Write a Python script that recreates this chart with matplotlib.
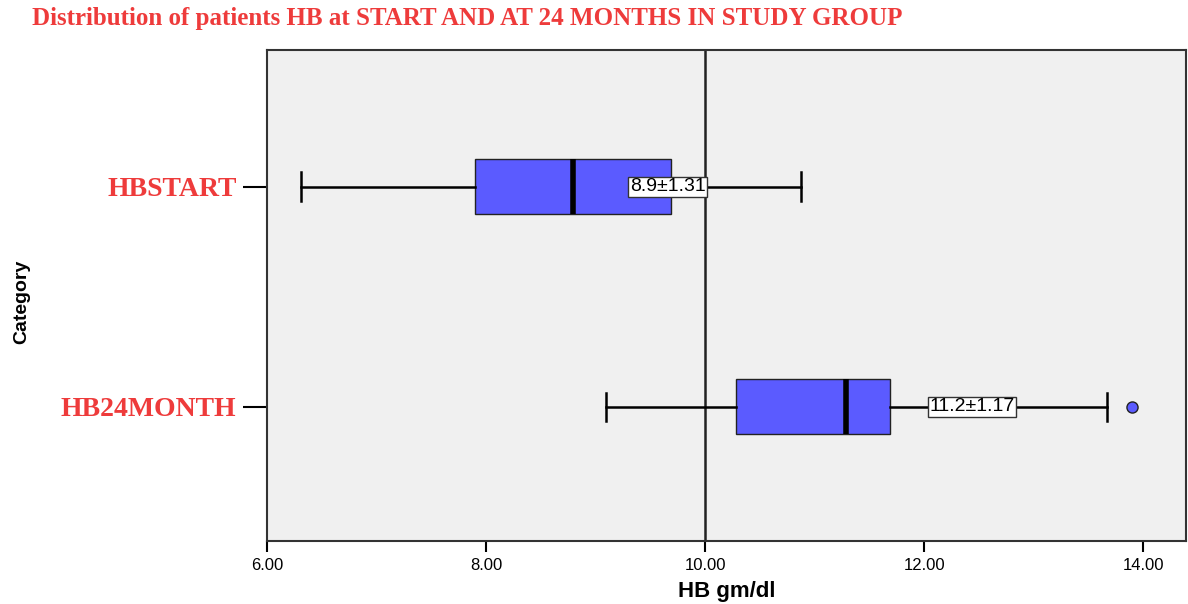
import matplotlib

matplotlib.use("Agg")

import matplotlib.pyplot as plt

CATEGORIES = ["HB24MONTH", "HBSTART"]
WHISKER_LOW = [9.10, 6.31]
Q1 = [10.28, 7.90]
MEDIAN = [11.29, 8.79]
Q3 = [11.69, 9.69]
WHISKER_HIGH = [13.67, 10.88]
OUTLIERS = [[13.90], []]
MEAN_SD_LABELS = ["11.2\u00b11.17", "8.9\u00b11.31"]
LABEL_X = [12.44, 9.66]
XTICKS = [6, 8, 10, 12, 14]
REF_LINE = 10.0

RED = "#ee3b3b"
BOX_BLUE = "#5b5bff"

fig = plt.figure(figsize=(11.88, 6.04), dpi=100)
ax = fig.add_axes([0.2247, 0.104, 0.7735, 0.813])
ax.set_facecolor("#f0f0f0")

stats = []
for i, name in enumerate(CATEGORIES):
    stats.append({
        "label": name,
        "whislo": WHISKER_LOW[i],
        "q1": Q1[i],
        "med": MEDIAN[i],
        "q3": Q3[i],
        "whishi": WHISKER_HIGH[i],
        "fliers": OUTLIERS[i],
    })

ax.axvline(REF_LINE, color="#222222", lw=1.8, zorder=1)

ax.bxp(
    stats,
    positions=[0, 1],
    widths=0.25,
    vert=False,
    patch_artist=True,
    boxprops=dict(facecolor=BOX_BLUE, edgecolor="#222222", lw=1.0),
    medianprops=dict(color="black", lw=4),
    whiskerprops=dict(color="black", lw=1.8),
    capprops=dict(color="black", lw=1.8),
    capwidths=0.13,
    flierprops=dict(marker="o", markerfacecolor=BOX_BLUE, markeredgecolor="#222222",
                    markersize=8, markeredgewidth=1.0),
    zorder=2,
)

for i, txt in enumerate(MEAN_SD_LABELS):
    ax.text(LABEL_X[i], i, txt, ha="center", va="center", fontsize=14,
            family="Liberation Sans", zorder=5,
            bbox=dict(boxstyle="square,pad=0.08", fc="white", ec="#333333", lw=1.0))

ax.set_xlim(6, 14.39)
ax.set_ylim(-0.61, 1.62)
ax.set_xticks(XTICKS)
ax.set_xticklabels(["%.2f" % v for v in XTICKS], fontsize=12, family="Liberation Sans")
ax.set_yticks([0, 1])
ax.set_yticklabels(CATEGORIES, fontsize=20, fontweight="bold", family="Liberation Serif", color=RED)
ax.tick_params(axis="y", length=17, width=1.5, pad=5)
ax.tick_params(axis="x", length=8, width=1.5, pad=4)

for spine in ax.spines.values():
    spine.set_linewidth(1.5)
    spine.set_color("#333333")

ax.set_xlabel("HB gm/dl", fontsize=16, fontweight="bold", family="Liberation Sans", labelpad=6)
fig.text(0.018, 0.5, "Category", rotation=90, ha="center", va="center",
         fontsize=14, fontweight="bold", family="Liberation Sans")

fig.text(0.027, 0.970, "Distribution of patients HB at START AND AT 24 MONTHS IN STUDY GROUP",
         ha="left", va="center", fontsize=18, fontweight="bold", family="Liberation Serif", color=RED)

fig.savefig("out.png", dpi=100)
